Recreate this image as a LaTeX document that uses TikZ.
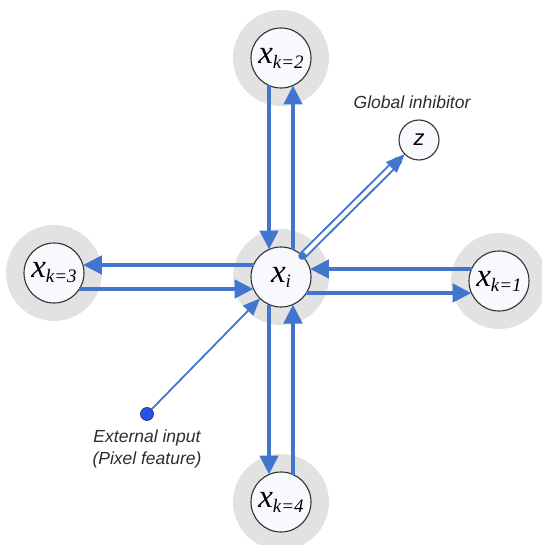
\documentclass[tikz,border=0pt]{standalone}
\usepackage{fontspec}
\setmainfont{Liberation Serif}
\setsansfont{Liberation Sans}
\usetikzlibrary{arrows.meta,calc}

\definecolor{linkblue}{RGB}{66,117,206}
\definecolor{halogray}{RGB}{226,226,226}
\definecolor{rimgray}{RGB}{50,50,50}
\definecolor{cellfill}{RGB}{247,249,252}
\definecolor{dotblue}{RGB}{40,80,235}
\definecolor{labeltext}{RGB}{45,45,45}

% cell variable: large italic x with an italic subscript
\newcommand\cellvar[1]{{\fontsize{33}{33}\selectfont\itshape x}\raisebox{-5pt}{\fontsize{19}{19}\selectfont\itshape #1}}

\begin{document}
\begin{tikzpicture}[x=1pt,y=-1pt,
  halo/.style={circle,fill=halogray,minimum size=96pt,inner sep=0pt},
  cell/.style={circle,draw=rimgray,line width=1.1pt,fill=cellfill,minimum size=60pt,inner sep=0pt},
  link/.style={draw=linkblue,line width=4.6pt,-{Triangle[length=19pt,width=18pt]}},
  dbl/.style={draw=linkblue,line width=2pt,double=white,double distance=4pt},
  tipblue/.style={draw=linkblue,line width=1pt,-{Triangle[length=19pt,width=15pt]}},
  thin/.style={draw=linkblue,line width=1.8pt,-{Triangle[length=17pt,width=14pt]}},
  caption/.style={font=\sffamily\itshape\fontsize{17.5}{22}\selectfont,text=labeltext,inner sep=0pt}
]
\useasboundingbox (0,0) rectangle (541,545);

% grey halos behind the cells
\node[halo] (ht) at (281,58) {};
\node[halo] (hb) at (281,502) {};
\node[halo] (hl) at (54,273) {};
\node[halo] (hr) at (499,281) {};
\node[halo] (hc) at (281,277) {};

% cells
\node[cell] (c) at (281,277) {\cellvar{i}};
\node[cell] (t) at (281,58) {\cellvar{k=2}};
\node[cell] (b) at (281,502) {\cellvar{k=4}};
\node[cell] (l) at (54,273) {\cellvar{k=3}};
\node[cell] (r) at (499,281) {\cellvar{k=1}};

% global inhibitor
\node[circle,draw=rimgray,line width=1.1pt,fill=cellfill,minimum size=40pt,inner sep=0pt] (z) at (419,140)
  {\sffamily\itshape\fontsize{22}{22}\selectfont z};
\node[caption] (zlab) at (412,102) {Global inhibitor};

% external input
\node[circle,fill=dotblue,draw=rimgray!70!dotblue,line width=0.7pt,minimum size=13pt,inner sep=0pt] (ext) at (147,414) {};
\node[caption,align=center] (extlab) at (147,449) {External input\\(Pixel feature)};

% vertical links
\draw[link] ($(t)+(-12,27.5)$) -- ($(c)+(-12,-27.5)$);
\draw[link] ($(c)+(12,-27.5)$) -- ($(t)+(12,27.5)$);
\draw[link] ($(c)+(-12,27.5)$) -- ($(b)+(-12,-27.5)$);
\draw[link] ($(b)+(12,-27.5)$) -- ($(c)+(12,27.5)$);

% horizontal links, left
\draw[link] ($(c)+(-27.5,-12)$) -- ($(l)+(28.9,-8)$);
\draw[link] ($(l)+(25.4,16)$) -- ($(c)+(-27.5,12)$);
% horizontal links, right
\draw[link] ($(r)+(-27.5,-12)$) -- ($(c)+(28.9,-8)$);
\draw[link] ($(c)+(25.4,16)$) -- ($(r)+(-27.5,12)$);

% link to the global inhibitor
\coordinate (zs) at ($(c)!30pt!(z)$);
\draw[dbl] (zs) -- ($(z)!28pt!(c)$);
\draw[tipblue] ($(z)!38pt!(c)$) -- ($(z)!20pt!(c)$);
\fill[linkblue] (zs) circle (4pt);

% external input link
\draw[thin] (ext) -- ($(c)!30pt!(ext)$);
\end{tikzpicture}
\end{document}
